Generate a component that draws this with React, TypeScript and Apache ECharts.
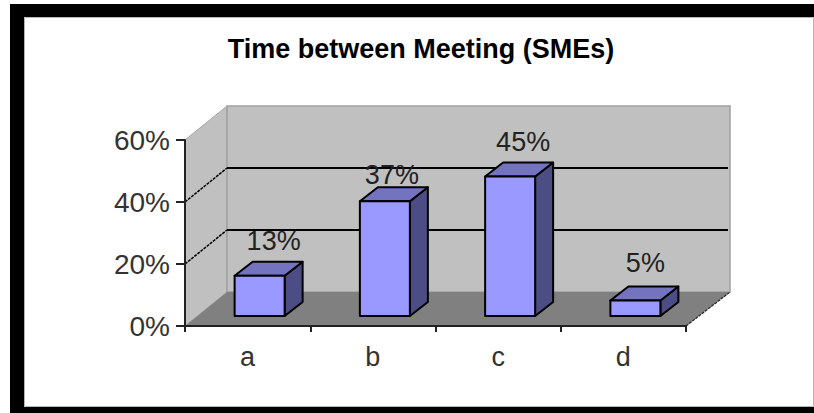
import React, { useEffect, useRef } from "react";
import * as echarts from "echarts";

const title = "Time between Meeting (SMEs)";
const categories = ["a", "b", "c", "d"];
const shares = [13, 37, 45, 5];
const valueTicks = [0, 20, 40, 60];

// Oblique projection of the box: how far the back wall sits from the front plane.
const WALL_DX = 42;
const WALL_DY = -34;
// Bars stand part of the way into the floor.
const BAR_SHIFT_X = 12;
const BAR_SHIFT_Y = -10;
const BAR_WIDTH = 50;
const BAR_DX = 18;
const BAR_DY = -14;
const LABEL_SHIFT_X = [14, 7, 13, 10];
const LABEL_SHIFT_Y = [-21, -12, -21, -24];
const FONT = '"Liberation Sans", Arial, sans-serif';

function renderRoom(params: any, api: any) {
  const cs = params.coordSys;
  const left = cs.x;
  const right = cs.x + cs.width;
  const bottom = cs.y + cs.height;
  const top = cs.y;
  const pts = (p: number[][]) => ({ points: p });
  const children: any[] = [
    {
      type: "polygon",
      shape: pts([[left, top], [left + WALL_DX, top + WALL_DY], [left + WALL_DX, bottom + WALL_DY], [left, bottom]]),
      style: { fill: "#c0c0c0", stroke: "#a6a6a6", lineWidth: 1 },
    },
    {
      type: "rect",
      shape: { x: left + WALL_DX, y: top + WALL_DY, width: right - left + 2, height: bottom - top },
      style: { fill: "#c0c0c0", stroke: "#a0a0a0", lineWidth: 1.5 },
    },
    {
      type: "polygon",
      shape: pts([[left, bottom], [left + WALL_DX, bottom + WALL_DY], [right + WALL_DX + 2, bottom + WALL_DY], [right, bottom]]),
      style: { fill: "#808080" },
    },
    {
      type: "line",
      shape: { x1: right, y1: bottom, x2: right + WALL_DX + 2, y2: bottom + WALL_DY },
      style: { stroke: "#222", lineWidth: 1.2, lineDash: [3, 1] },
    },
  ];
  valueTicks.slice(1, -1).forEach((tick) => {
    const y = api.coord([0, tick])[1];
    children.push(
      {
        type: "line",
        shape: { x1: left, y1: y, x2: left + WALL_DX, y2: y + WALL_DY },
        style: { stroke: "#000", lineWidth: 1.5, lineDash: [3, 1] },
      },
      {
        type: "line",
        shape: { x1: left + WALL_DX, y1: y + WALL_DY, x2: right + WALL_DX, y2: y + WALL_DY },
        style: { stroke: "#000", lineWidth: 2 },
      }
    );
  });
  return { type: "group", children };
}

function renderBar(params: any, api: any) {
  const idx = params.dataIndex;
  const [cx, y1] = api.coord([api.value(0), api.value(1)]);
  const y0 = api.coord([api.value(0), 0])[1];
  const x = cx + BAR_SHIFT_X - BAR_WIDTH / 2;
  const top = y1 + BAR_SHIFT_Y;
  const base = y0 + BAR_SHIFT_Y;
  const edge = { stroke: "#000", lineWidth: 2, lineJoin: "round" };
  return {
    type: "group",
    children: [
      {
        type: "polygon",
        shape: { points: [[x + BAR_WIDTH, top], [x + BAR_WIDTH + BAR_DX, top + BAR_DY], [x + BAR_WIDTH + BAR_DX, base + BAR_DY], [x + BAR_WIDTH, base]] },
        style: { fill: "#4d4d85", ...edge },
      },
      {
        type: "polygon",
        shape: { points: [[x, top], [x + BAR_DX, top + BAR_DY], [x + BAR_WIDTH + BAR_DX, top + BAR_DY], [x + BAR_WIDTH, top]] },
        style: { fill: "#7373bf", ...edge },
      },
      {
        type: "rect",
        shape: { x, y: top, width: BAR_WIDTH, height: base - top },
        style: { fill: "#9999ff", ...edge },
      },
      {
        type: "text",
        x: x + BAR_WIDTH / 2 + LABEL_SHIFT_X[idx],
        y: top + BAR_DY + LABEL_SHIFT_Y[idx],
        style: {
          text: `${api.value(1)}%`,
          font: `27px ${FONT}`,
          fill: "#222",
          align: "center",
          verticalAlign: "middle",
        },
      },
    ],
  };
}

export default function App() {
  const ref = useRef<HTMLDivElement>(null);
  useEffect(() => {
    const chart = echarts.init(ref.current!, undefined, { renderer: "svg" });
    chart.setOption({
      animation: false,
      backgroundColor: "#fff",
      title: {
        text: title,
        left: 416,
        top: 30,
        textAlign: "center",
        textStyle: { fontFamily: FONT, fontSize: 27, fontWeight: "bold", color: "#000" },
      },
      grid: { left: 185, top: 140, width: 501, height: 186 },
      xAxis: {
        type: "category",
        data: categories,
        axisLine: { lineStyle: { color: "#222", width: 2 } },
        axisTick: { show: true, length: 6, alignWithLabel: false, lineStyle: { color: "#222", width: 2 } },
        axisLabel: { fontFamily: FONT, fontSize: 27, color: "#333", margin: 17 },
        z: 3,
      },
      yAxis: {
        type: "value",
        min: 0,
        max: 60,
        interval: 20,
        axisLine: { show: true, lineStyle: { color: "#222", width: 2 } },
        axisTick: { show: true, length: 9, lineStyle: { color: "#222", width: 2 } },
        axisLabel: { fontFamily: FONT, fontSize: 28, color: "#333", margin: 15, formatter: "{value}%" },
        splitLine: { show: false },
        z: 3,
      },
      series: [
        { type: "custom", renderItem: renderRoom, data: [[0, 0]], silent: true, z: 1, clip: false },
        {
          type: "custom",
          renderItem: renderBar,
          data: categories.map((_, i) => [i, shares[i]]),
          encode: { x: 0, y: 1 },
          z: 2,
          clip: false,
        },
      ],
      graphic: [
        { type: "rect", shape: { x: 24.5, y: 17.5, width: 789, height: 389 }, style: { fill: "none", stroke: "#b4b4b4", lineWidth: 1 } },
        { type: "rect", shape: { x: 10, y: 4, width: 804, height: 13 }, style: { fill: "#000" } },
        { type: "rect", shape: { x: 10, y: 4, width: 14, height: 409 }, style: { fill: "#000" } },
        { type: "rect", shape: { x: 10, y: 407, width: 804, height: 6 }, style: { fill: "#000" } },
      ],
    });
    return () => chart.dispose();
  }, []);
  return <div ref={ref} style={{ position: "fixed", left: 0, top: 0, width: 814, height: 413 }} />;
}
